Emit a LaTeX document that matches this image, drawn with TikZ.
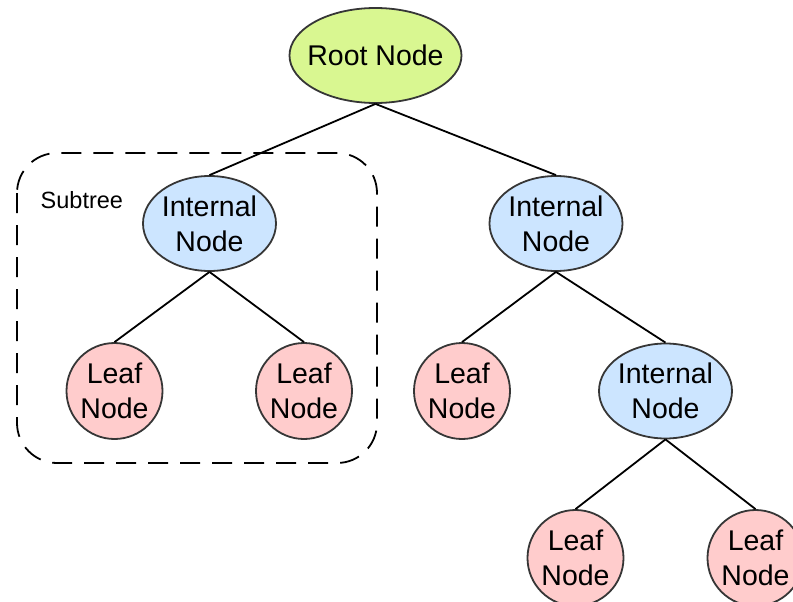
\documentclass[tikz,border=0pt]{standalone}
\usepackage{fontspec}
\setmainfont{Liberation Sans}
\usetikzlibrary{shapes.geometric}
\definecolor{rootfill}{HTML}{D9F791}
\definecolor{intfill}{HTML}{CCE5FF}
\definecolor{leaffill}{HTML}{FFCCCC}
\definecolor{nodeline}{HTML}{363636}
\newcommand{\zw}[1]{\makebox[0pt]{#1}}
\tikzset{
  basenode/.style={draw=nodeline, line width=1.8pt, inner sep=0pt, align=center,
    font=\fontsize{28.5}{35}\selectfont},
  rootnode/.style={basenode, ellipse, fill=rootfill, minimum width=172pt, minimum height=95pt},
  intnode/.style={basenode, ellipse, fill=intfill, minimum width=133pt, minimum height=95pt},
  leafnode/.style={basenode, circle, fill=leaffill, minimum size=96pt},
  edge/.style={draw=black, line width=1.8pt},
  subtreebox/.style={draw=black, line width=1.8pt, dash pattern=on 20pt off 12pt, rounded corners=40pt},
  labeltext/.style={inner sep=0pt, font=\fontsize{23.5}{28}\selectfont},
}
\begin{document}
\begin{tikzpicture}[x=1pt, y=-1pt]
\useasboundingbox (0,0) rectangle (793,602);
\clip (0,0) rectangle (793,602);
\draw[subtreebox] (17,153) rectangle (377,463);
\node[labeltext, anchor=base west] (sub) at (40.5,208) {Subtree};
\node[rootnode] (root) at (375.5,55.5) {\zw{Root Node}};
\node[intnode] (i1) at (209.5,223.5) {\zw{Internal}\\\zw{Node}};
\node[intnode] (i2) at (556,223.5) {\zw{Internal}\\\zw{Node}};
\node[leafnode] (l1) at (114.5,391) {\zw{Leaf}\\\zw{Node}};
\node[leafnode] (l2) at (304,391) {\zw{Leaf}\\\zw{Node}};
\node[leafnode] (l3) at (462,391) {\zw{Leaf}\\\zw{Node}};
\node[intnode] (i3) at (665.5,391) {\zw{Internal}\\\zw{Node}};
\node[leafnode] (l5) at (575.5,558) {\zw{Leaf}\\\zw{Node}};
\node[leafnode] (l6) at (755.5,558) {\zw{Leaf}\\\zw{Node}};
\draw[edge] (root.south) -- (i1.north);
\draw[edge] (root.south) -- (i2.north);
\draw[edge] (i1.south) -- (l1.north);
\draw[edge] (i1.south) -- (l2.north);
\draw[edge] (i2.south) -- (l3.north);
\draw[edge] (i2.south) -- (i3.north);
\draw[edge] (i3.south) -- (l5.north);
\draw[edge] (i3.south) -- (l6.north);
\end{tikzpicture}
\end{document}
